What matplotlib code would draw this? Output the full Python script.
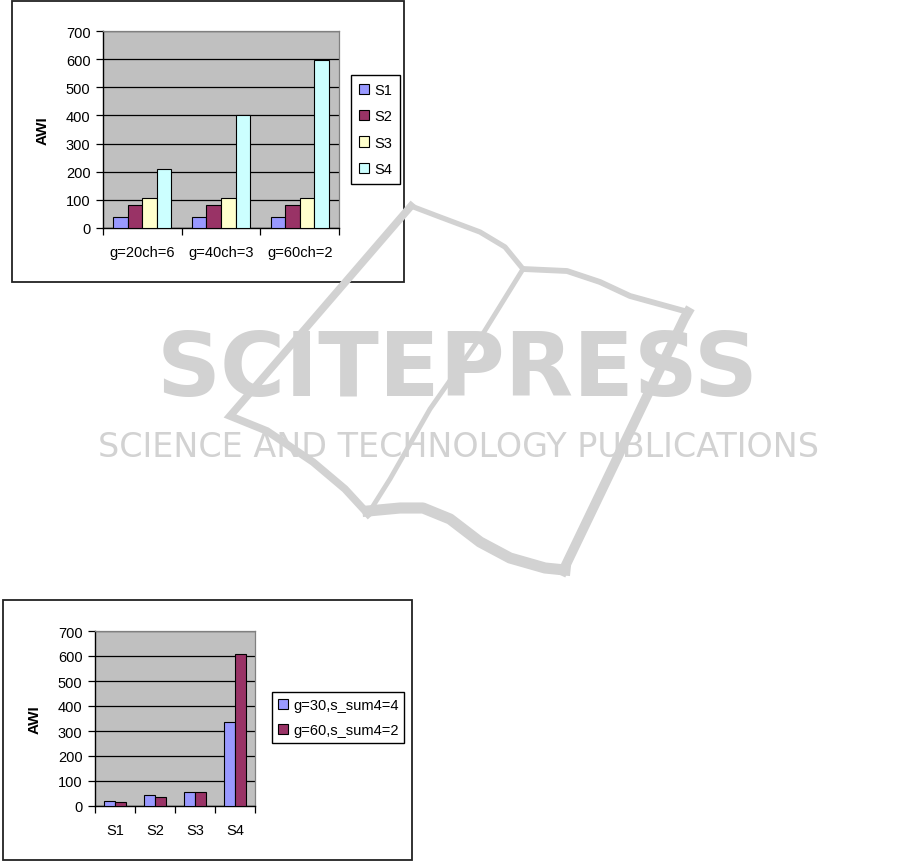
import numpy as np
import matplotlib
matplotlib.use("Agg")
import matplotlib.pyplot as plt
from matplotlib.patches import Rectangle

# data
top_groups = ["g=20ch=6", "g=40ch=3", "g=60ch=2"]
top_series = ["S1", "S2", "S3", "S4"]
s1 = [40, 40, 40]
s2 = [80, 80, 80]
s3 = [106, 106, 106]
s4 = [210, 400, 596]

bot_groups = ["S1", "S2", "S3", "S4"]
bot_series = ["g=30,s_sum4=4", "g=60,s_sum4=2"]
g30 = [22, 45, 57, 335]
g60 = [15, 38, 57, 607]

y_ticks = [0, 100, 200, 300, 400, 500, 600, 700]

COLORS = ["#9999FF", "#993366", "#FFFFCC", "#CCFFFF"]
W, H = 909, 862
plt.rcParams['font.family'] = ['Liberation Sans', 'DejaVu Sans']
FS = 10.5

fig = plt.figure(figsize=(W / 100, H / 100), dpi=100)


def px_rect(x0, y0, x1, y1):
    # pixel box (top-left origin) -> figure fraction [left, bottom, width, height]
    return [x0 / W, 1 - y1 / H, (x1 - x0) / W, (y1 - y0) / H]


def frame(x0, y0, x1, y1):
    l, b, w, h = px_rect(x0, y0, x1, y1)
    fig.patches.append(Rectangle((l, b), w, h, transform=fig.transFigure,
                                 facecolor="white", edgecolor="#222222",
                                 linewidth=1.3, zorder=-1))


def excel_axes(rect, groups, series_vals, names, bar_w, colors):
    ax = fig.add_axes(px_rect(*rect))
    ax.set_facecolor("#C0C0C0")
    n = len(series_vals)
    x = np.arange(len(groups))
    for k, vals in enumerate(series_vals):
        ax.bar(x + (k - (n - 1) / 2) * bar_w, vals, bar_w, color=colors[k],
               edgecolor="black", linewidth=0.8, label=names[k], zorder=3)
    ax.set_xlim(-0.5, len(groups) - 0.5)
    ax.set_ylim(0, 700)
    ax.set_yticks(y_ticks)
    ax.set_yticklabels([str(v) for v in y_ticks], fontsize=FS)
    ax.yaxis.grid(True, color="black", linewidth=0.9, zorder=1)
    ax.set_axisbelow(True)
    ax.set_xticks(x)
    ax.set_xticklabels(groups, fontsize=FS)
    ax.set_xticks(np.arange(len(groups) + 1) - 0.5, minor=True)
    ax.tick_params(axis="x", which="major", length=0, pad=12)
    ax.tick_params(axis="x", which="minor", length=5, width=0.9, direction="out")
    ax.tick_params(axis="y", length=5, width=0.9, direction="out", pad=4)
    for s in ["top", "right"]:
        ax.spines[s].set_color("#808080")
        ax.spines[s].set_linewidth(0.9)
    for s in ["left", "bottom"]:
        ax.spines[s].set_color("black")
        ax.spines[s].set_linewidth(1.0)
    ax.set_ylabel("AWI", fontsize=11, fontweight="bold", labelpad=12)
    return ax


# top chart
frame(12, 2, 404, 283)
ax1 = excel_axes((103, 32, 339, 229), top_groups, [s1, s2, s3, s4],
                 top_series, 0.185, COLORS)
l, b, w, h = px_rect(354, 76, 397, 185)
leg1 = ax1.legend(loc="center", bbox_to_anchor=(l, b, w, h),
                  bbox_transform=fig.transFigure, fontsize=FS, frameon=True,
                  fancybox=False, framealpha=1, edgecolor="black",
                  handlelength=0.7, handleheight=0.7, handletextpad=0.35,
                  labelspacing=0.85, borderpad=0.55, borderaxespad=0)
leg1.get_frame().set_linewidth(1.0)

# bottom chart
frame(3, 601, 412, 861)
ax2 = excel_axes((95, 632, 255, 807), bot_groups, [g30, g60],
                 bot_series, 0.285, COLORS[:2])
l, b, w, h = px_rect(269, 691, 407, 746)
leg2 = ax2.legend(loc="center", bbox_to_anchor=(l, b, w, h),
                  bbox_transform=fig.transFigure, fontsize=FS, frameon=True,
                  fancybox=False, framealpha=1, edgecolor="black",
                  handlelength=0.7, handleheight=0.7, handletextpad=0.35,
                  labelspacing=0.75, borderpad=0.4, borderaxespad=0)
leg2.get_frame().set_linewidth(1.0)

# publisher watermark on top of everything
wm = fig.add_axes([0, 0, 1, 1], zorder=10)
wm.set_xlim(0, W)
wm.set_ylim(H, 0)
wm.axis("off")
wm.patch.set_alpha(0)
GRAY = "#D2D2D2"
# book outline
wm.plot([411, 440, 480, 505, 523], [207, 218, 233, 248, 270], color=GRAY, lw=3.8)
wm.plot([523, 567, 600, 630, 688], [270, 272, 283, 297, 313], color=GRAY, lw=4.2)
wm.plot([523, 484, 430, 390, 368], [270, 333, 410, 480, 515], color=GRAY, lw=3.5)
wm.plot([411, 230, 267, 313, 345, 368], [207, 417, 432, 463, 490, 515],
        color=GRAY, lw=5.5, solid_joinstyle="miter")
wm.plot([368, 400, 423, 450, 480, 510, 545, 565], [512, 509, 509, 520, 543, 559, 569, 571],
        color=GRAY, lw=8)
wm.plot([688, 684, 563], [313, 320, 572], color=GRAY, lw=7)
wm.text(458, 372, "SCITEPRESS", fontsize=64, fontweight="bold", color=GRAY,
        family="DejaVu Sans", ha="center", va="center")
wm.text(458, 448, "SCIENCE AND TECHNOLOGY PUBLICATIONS", fontsize=24, color=GRAY,
        family="DejaVu Sans", ha="center", va="center")

fig.savefig("out.png", dpi=100)
